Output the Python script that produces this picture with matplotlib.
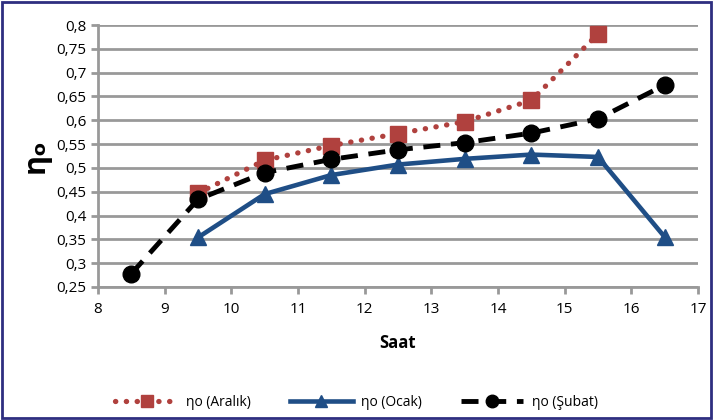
import numpy as np
import matplotlib.pyplot as plt
from matplotlib.patches import Rectangle

plt.rcParams['font.family'] = ['Open Sans', 'DejaVu Sans']

# saat (x) degerleri
x_aralik = [9.5, 10.5, 11.5, 12.5, 13.5, 14.5, 15.5]
y_aralik = [0.447, 0.516, 0.547, 0.572, 0.597, 0.642, 0.781]

x_ocak = [9.5, 10.5, 11.5, 12.5, 13.5, 14.5, 15.5, 16.5]
y_ocak = [0.354, 0.445, 0.485, 0.507, 0.519, 0.528, 0.523, 0.355]

x_subat = [8.5, 9.5, 10.5, 11.5, 12.5, 13.5, 14.5, 15.5, 16.5]
y_subat = [0.278, 0.434, 0.490, 0.518, 0.538, 0.553, 0.573, 0.603, 0.674]

labels = ['ηo (Aralık)', 'ηo (Ocak)', 'ηo (Şubat)']
yticks = np.arange(0.25, 0.8001, 0.05)

fig = plt.figure(figsize=(7.13, 4.2), dpi=100)
ax = fig.add_axes([98/713, 1-287/420, 600/713, 262/420])

ax.plot(x_aralik, y_aralik, color='#B0413E', ls=(0, (0.05, 2.0)), lw=3.8,
        dash_capstyle='round', marker='s', ms=12, label=labels[0], zorder=3)
ax.plot(x_ocak, y_ocak, color='#1F4E86', lw=3.3, marker='^', ms=12,
        label=labels[1], zorder=4)
ax.plot(x_subat, y_subat, color='black', ls=(0, (3.5, 2.2)), lw=3.5,
        marker='o', ms=12, label=labels[2], zorder=5)

ax.set_xlim(8, 17)
ax.set_ylim(0.25, 0.8)
ax.set_xticks(range(8, 18))
ax.set_yticks(yticks)
ax.set_yticklabels([('%.2f' % v).rstrip('0').replace('.', ',') for v in yticks])
ax.yaxis.grid(True, color='#999999', lw=2)
ax.set_axisbelow(True)
for s in ['top', 'right']:
    ax.spines[s].set_visible(False)
for s in ['left', 'bottom']:
    ax.spines[s].set_color('#999999')
    ax.spines[s].set_linewidth(2)
ax.tick_params(axis='both', colors='#999999', width=2, length=5,
               labelsize=11, labelcolor='black')
ax.tick_params(axis='x', pad=6)

ax.set_xlabel('Saat', fontsize=12, fontweight='bold', labelpad=12)
ax.set_ylabel('ηₒ', fontsize=22, fontweight='bold', labelpad=4)

ax.legend(loc='center', bbox_to_anchor=(0.5, 1-402/420), bbox_transform=fig.transFigure,
          ncol=3, frameon=False, fontsize=10, handlelength=4.5, columnspacing=2.8,
          handletextpad=0.6, markerscale=0.75)

fig.patches.append(Rectangle((0.003, 0.004), 0.994, 0.992, transform=fig.transFigure,
                             fill=False, edgecolor='#2E2E80', lw=2))

fig.savefig('out.png', dpi=100)
